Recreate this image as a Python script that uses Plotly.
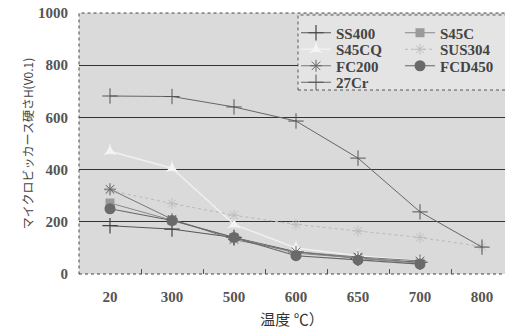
import plotly.graph_objects as go

categories = ["20", "300", "500", "600", "650", "700", "800"]
ss400 = [185, 172, 140, 85, 60, 45, None]
s45c = [272, 205, 140, 80, 62, 42, None]
s45cq = [470, 405, 190, 100, 70, 50, None]
sus304 = [320, 270, 225, 190, 165, 140, 105]
fc200 = [325, 210, 132, 85, 65, 50, None]
fcd450 = [250, 205, 140, 70, 54, 38, None]
cr27 = [682, 680, 640, 586, 444, 238, 103]
y_ticks = [0, 200, 400, 600, 800, 1000]

W, H = 505, 332
L, T, R, B = 79, 13, 0, 58
pw, ph = W - L - R, H - T - B

def px(xp):
    return (xp - L) / pw

def py(yp):
    return (T + ph - yp) / ph

fig = go.Figure()

series = [
    ("SS400", ss400, dict(symbol="cross-thin", size=11, color="#444", line=dict(width=1.2, color="#444")), dict(color="#555", width=1)),
    ("S45C", s45c, dict(symbol="square", size=9, color="#9a9a9a"), dict(color="#888", width=1)),
    ("S45CQ", s45cq, dict(symbol="star-triangle-up", size=10, color="#f4f4f4"), dict(color="#f0f0f0", width=1.5)),
    ("SUS304", sus304, dict(symbol="asterisk", size=9, color="#c0c0c0", line=dict(width=1, color="#bdbdbd")), dict(color="#b8b8b8", width=1, dash="dot")),
    ("FC200", fc200, dict(symbol="asterisk", size=10, color="#666", line=dict(width=1, color="#666")), dict(color="#777", width=1)),
    ("FCD450", fcd450, dict(symbol="circle", size=11, color="#6a6a6a"), dict(color="#666", width=1.2)),
    ("27Cr", cr27, dict(symbol="cross-thin", size=11, color="#555", line=dict(width=1, color="#555")), dict(color="#666", width=1)),
]
# legend slot positions (pixel): column x, row y
slots = [(296, 33), (400, 33), (296, 49.5), (400, 49.5), (296, 66), (400, 66), (296, 82.5)]

leg_font = dict(family="Liberation Serif", size=15, color="#444", weight="bold")
layout_legends = {}
for i, ((name, vals, mk, ln), (sx, sy)) in enumerate(zip(series, slots)):
    key = "legend" if i == 0 else f"legend{i + 1}"
    fig.add_trace(go.Scatter(x=categories, y=vals, name=name, mode="lines+markers",
                             marker=mk, line=ln, legend=key, connectgaps=False))
    layout_legends[key] = dict(x=px(sx), y=py(sy), xanchor="left", yanchor="middle",
                               bgcolor="rgba(0,0,0,0)", font=leg_font, itemwidth=30)

tick_font = dict(family="Liberation Serif", size=15, color="#555", weight="bold")

fig.update_layout(
    width=W, height=H,
    margin=dict(l=L, r=R, t=T, b=B),
    paper_bgcolor="white",
    plot_bgcolor="#dadada",
    showlegend=True,
    xaxis=dict(type="category", range=[-0.5, -0.5 + pw / 62.0], showgrid=False,
               ticks="inside", tickson="boundaries", ticklen=5, tickcolor="#555",
               tickfont=tick_font, showline=False, zeroline=False, ticklabelstandoff=12,
               title=dict(text="温度 ℃）", font=dict(family="Noto Sans CJK JP", size=15, color="#333"), standoff=10)),
    yaxis=dict(range=[0, 1000], tickvals=y_ticks, showgrid=True, gridcolor="#333", gridwidth=1,
               tickfont=tick_font, zeroline=False, showline=False, ticks="", ticklabelstandoff=10,
               title=dict(text="マイクロビッカース硬さH(V0.1)", font=dict(family="Noto Sans CJK JP", size=12, color="#444"), standoff=1)),
    shapes=[
        dict(type="rect", xref="paper", yref="paper", x0=0, x1=1.01, y0=0, y1=1,
             line=dict(color="#444", width=1, dash="dot"), layer="above"),
        dict(type="rect", xref="paper", yref="paper", x0=px(298), x1=1.01, y0=py(90), y1=py(15),
             line=dict(color="#555", width=1, dash="dot"), fillcolor="#e4e4e4", layer="above"),
    ],
    **layout_legends,
)

fig.write_html("out.html")
